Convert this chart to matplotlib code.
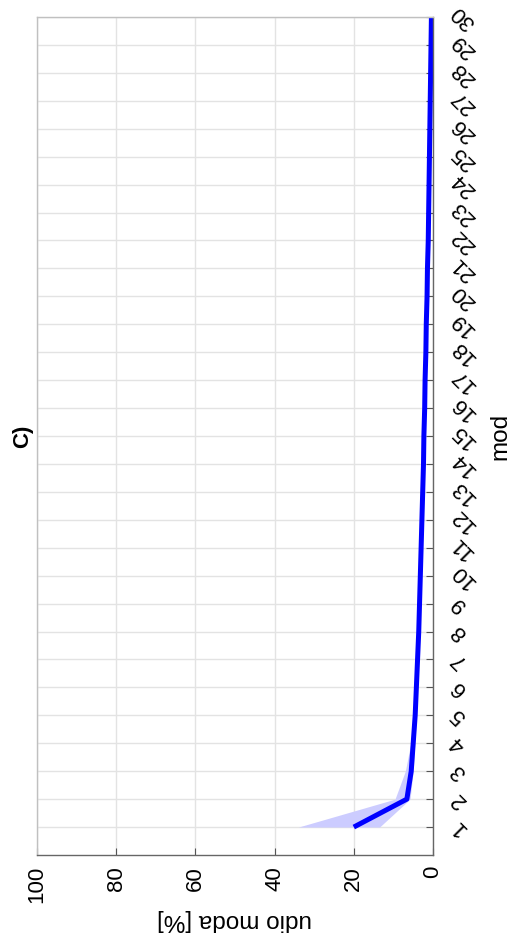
import matplotlib.pyplot as plt
import numpy as np

plt.rcParams['font.family'] = ['Liberation Sans', 'DejaVu Sans']

modes = list(range(1, 31))
share_mean = [20.0, 6.6, 5.5, 5.0, 4.5, 4.2, 3.9, 3.6, 3.4, 3.2,
              3.0, 2.8, 2.6, 2.4, 2.3, 2.1, 2.0, 1.8, 1.7, 1.5,
              1.4, 1.2, 1.1, 1.0, 0.9, 0.8, 0.7, 0.6, 0.5, 0.4]
share_low = [13.5, 5.8, 5.0, 4.6, 4.2, 3.9, 3.6, 3.3, 3.1, 2.9,
             2.7, 2.5, 2.3, 2.1, 2.0, 1.8, 1.7, 1.5, 1.4, 1.2,
             1.1, 0.9, 0.8, 0.7, 0.6, 0.5, 0.4, 0.3, 0.2, 0.1]
share_high = [34.0, 9.6, 7.0, 5.6, 5.0, 4.6, 4.3, 4.0, 3.7, 3.5,
              3.3, 3.1, 2.9, 2.7, 2.6, 2.4, 2.3, 2.1, 2.0, 1.8,
              1.7, 1.5, 1.4, 1.3, 1.2, 1.1, 1.0, 0.9, 0.8, 0.7]
pct_ticks = [0, 20, 40, 60, 80, 100]

W, H = 511, 939
fig = plt.figure(figsize=(W / 100, H / 100), dpi=100)
ax = fig.add_axes([37 / W, (H - 855) / H, (433 - 37) / W, (855 - 17) / H])

ax.fill_betweenx(modes, share_low, share_high, color='#ccccff', linewidth=0)
ax.plot(share_mean, modes, color='#0000ff', linewidth=3.6, solid_capstyle='butt')

ax.set_xlim(100, 0)
ax.set_ylim(0, 30)
ax.set_xticks(pct_ticks)
ax.set_xticklabels([str(t) for t in pct_ticks], rotation=90, fontsize=16, va='top')
ax.set_yticks(modes)
ax.set_yticklabels([str(m) for m in modes], rotation=135, fontsize=16,
                   ha='left', va='center')

ax.yaxis.tick_right()
ax.tick_params(axis='both', direction='in', length=5, width=0.8, color='#555555')
ax.tick_params(axis='x', pad=8)
ax.tick_params(axis='y', pad=10)

ax.grid(True, color='#e3e3e3', linewidth=1.0)
ax.set_axisbelow(True)
for side in ['top', 'left']:
    ax.spines[side].set_color('#c0c0c0')
for side in ['bottom', 'right']:
    ax.spines[side].set_color('#666666')
for s in ax.spines.values():
    s.set_linewidth(1.0)

fig.text(235 / W, 1 - 920 / H, 'udio moda [%]', rotation=180, fontsize=17.5,
         ha='center', va='center')
fig.text(500 / W, 1 - 436 / H, 'mod', rotation=90, fontsize=17.5,
         ha='center', va='center')
fig.text(23 / W, 1 - 436 / H, 'C)', rotation=90, fontsize=16, fontweight='bold',
         ha='center', va='center')

fig.savefig('out.png', dpi=100)
